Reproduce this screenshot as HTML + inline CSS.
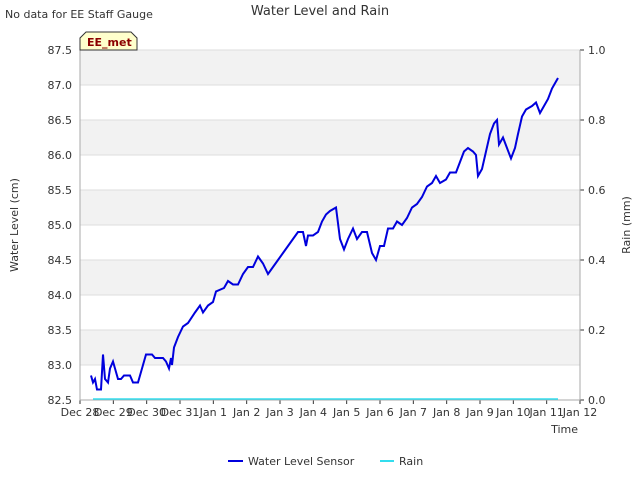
<!DOCTYPE html>
<html><head><meta charset="utf-8"><style>
body{margin:0;background:#fff;font-family:"Liberation Sans","DejaVu Sans",sans-serif}
svg text{font-family:"DejaVu Sans","Liberation Sans",sans-serif;fill:#333}
svg text.badge{fill:#8b0000}
</style></head><body>
<svg id="c" width="640" height="480" xmlns="http://www.w3.org/2000/svg">
<text x="5" y="18" font-size="11">No data for EE Staff Gauge</text>
<text x="320" y="15" font-size="13" text-anchor="middle" fill="#444">Water Level and Rain</text>
<g id="bands"></g><g id="grid"></g><g id="axes"></g><g id="series"></g>
<path d="M80,50 V38 L86,32 H131 L137,38 V50 Z" fill="#ffffcc" stroke="#333"/>
<text class="badge" x="87" y="46" font-size="11" font-weight="bold">EE_met</text>
<text x="18" y="225" font-size="11" text-anchor="middle" transform="rotate(-90 18 225)">Water Level (cm)</text>
<text x="630" y="225" font-size="11" text-anchor="middle" transform="rotate(-90 630 225)">Rain (mm)</text>
<text x="578" y="433" font-size="11" text-anchor="end">Time</text>
<g>
<line x1="228" y1="461" x2="243" y2="461" stroke="#0000dd" stroke-width="2"/>
<text x="248" y="465" font-size="11">Water Level Sensor</text>
<line x1="380" y1="461" x2="394" y2="461" stroke="#33ddee" stroke-width="2"/>
<text x="399" y="465" font-size="11">Rain</text>
</g>
</svg>
<script>
const xTickLabels=["Dec 28","Dec 29","Dec 30","Dec 31","Jan 1","Jan 2","Jan 3","Jan 4","Jan 5","Jan 6","Jan 7","Jan 8","Jan 9","Jan 10","Jan 11","Jan 12"];
const yTicks=[82.5,83.0,83.5,84.0,84.5,85.0,85.5,86.0,86.5,87.0,87.5];
const y2Ticks=[0.0,0.2,0.4,0.6,0.8,1.0];
const waterDays=[0.33,0.39,0.45,0.51,0.63,0.69,0.75,0.84,0.90,0.99,1.08,1.14,1.23,1.32,1.50,1.59,1.65,1.74,1.80,1.89,1.98,2.16,2.25,2.49,2.58,2.67,2.73,2.76,2.82,2.94,3.09,3.24,3.45,3.60,3.69,3.84,3.99,4.08,4.32,4.44,4.59,4.74,4.89,5.04,5.19,5.34,5.49,5.64,5.79,5.94,6.09,6.24,6.39,6.54,6.69,6.78,6.84,6.99,7.14,7.26,7.38,7.50,7.68,7.80,7.92,8.04,8.19,8.31,8.46,8.61,8.76,8.88,9.00,9.12,9.24,9.39,9.51,9.66,9.81,9.96,10.11,10.26,10.41,10.56,10.68,10.80,10.98,11.10,11.28,11.40,11.52,11.64,11.79,11.88,11.94,12.06,12.18,12.30,12.42,12.51,12.57,12.69,12.81,12.93,13.05,13.14,13.26,13.38,13.56,13.68,13.80,13.92,14.04,14.16,14.28,14.34];
const waterLevel=[82.85,82.75,82.8,82.65,82.65,83.15,82.8,82.75,82.95,83.05,82.9,82.8,82.8,82.85,82.85,82.75,82.75,82.75,82.85,83.0,83.15,83.15,83.1,83.1,83.05,82.95,83.1,83.0,83.25,83.4,83.55,83.6,83.75,83.85,83.75,83.85,83.9,84.05,84.1,84.2,84.15,84.15,84.3,84.4,84.4,84.55,84.45,84.3,84.4,84.5,84.6,84.7,84.8,84.9,84.9,84.7,84.85,84.85,84.9,85.05,85.15,85.2,85.25,84.8,84.65,84.8,84.95,84.8,84.9,84.9,84.6,84.5,84.7,84.7,84.95,84.95,85.05,85.0,85.1,85.25,85.3,85.4,85.55,85.6,85.7,85.6,85.65,85.75,85.75,85.9,86.05,86.1,86.05,86.0,85.7,85.8,86.05,86.3,86.45,86.5,86.15,86.25,86.1,85.95,86.1,86.3,86.55,86.65,86.7,86.75,86.6,86.7,86.8,86.95,87.05,87.1];
const rainDays=[0.39,14.34];
const rainValues=[0,0];
const L=80,R=580,T=50,B=400;
const xs=d=>L+d*(R-L)/15;
const ys=v=>B-(v-82.5)*(B-T)/5;
const y2s=v=>B-v*(B-T);
const NS="http://www.w3.org/2000/svg";
function mk(p,t,a){const e=document.createElementNS(NS,t);for(const k in a)e.setAttribute(k,a[k]);document.getElementById(p).appendChild(e);return e;}
for(let i=0;i<yTicks.length-1;i+=2){
 const r=mk('bands','rect',{x:L,y:ys(yTicks[i+2]||87.5),width:R-L,height:ys(yTicks[i+1])-ys(yTicks[i+2]||87.5),fill:'#f2f2f2'});
 
 
}
yTicks.forEach(v=>{
 const g=mk('grid','line',{x1:L,x2:R,y1:ys(v),y2:ys(v),stroke:'#dddddd'});
 
 
 const t=mk('axes','text',{x:L-8,y:ys(v)+4,'font-size':11,'text-anchor':'end'});
 
 
 t.textContent=v.toFixed(1);
});
y2Ticks.forEach(v=>{
 const k=mk('axes','line',{x1:R,x2:R+4,y1:y2s(v),y2:y2s(v),stroke:'#333'});
 
 
 const t=mk('axes','text',{x:R+8,y:y2s(v)+4,'font-size':11});
 
 
 t.textContent=v.toFixed(1);
});
xTickLabels.forEach((s,i)=>{
 const k=mk('axes','line',{x1:xs(i),x2:xs(i),y1:B,y2:B+4,stroke:'#333'});
 
 
 const t=mk('axes','text',{x:xs(i),y:B+16,'font-size':11,'text-anchor':'middle'});
 
 
 t.textContent=s;
});
const ax=mk('axes','path',{d:`M${L},${T}V${B}H${R}V${T}`,fill:'none',stroke:'#aaaaaa'});


const rp=mk('series','polyline',{points:rainDays.map((d,i)=>xs(d)+','+(y2s(rainValues[i])-1)).join(' '),fill:'none',stroke:'#33ddee','stroke-width':1.5});


const wp=mk('series','polyline',{points:waterDays.map((d,i)=>xs(d)+','+ys(waterLevel[i])).join(' '),fill:'none',stroke:'#0000dd','stroke-width':2});


</script>
</body></html>
